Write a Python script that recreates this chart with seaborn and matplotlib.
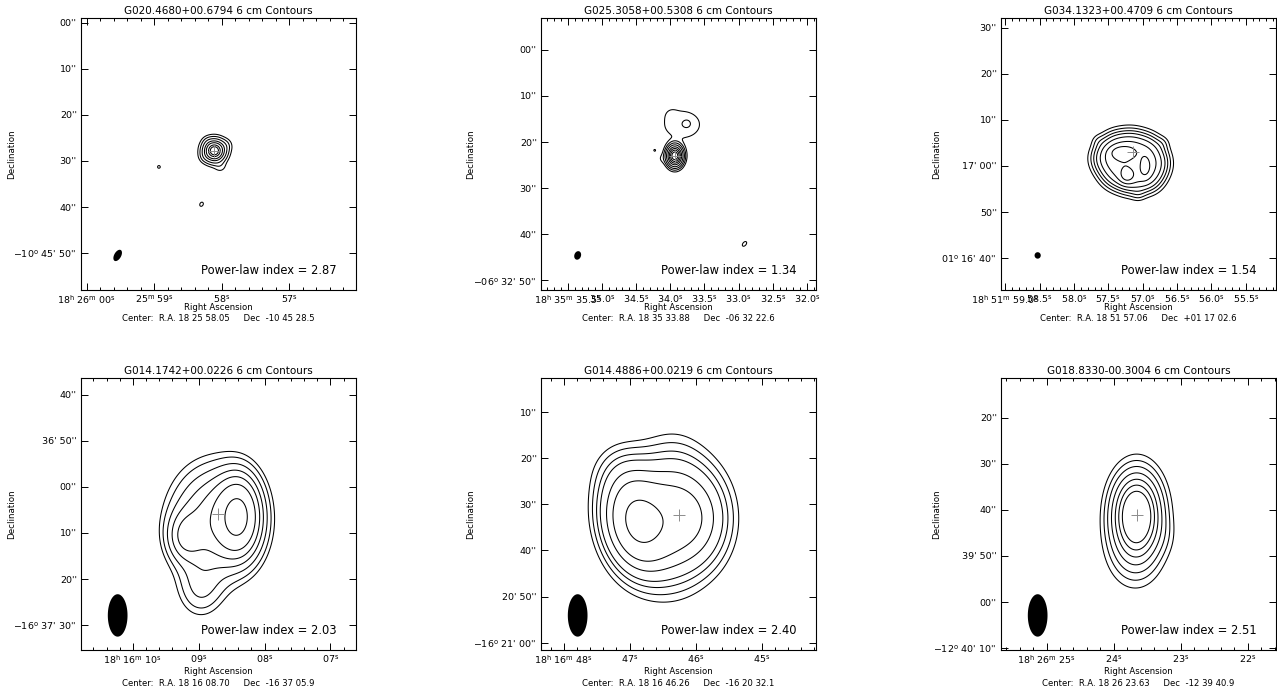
import numpy as np
import matplotlib
matplotlib.use("Agg")
import matplotlib.pyplot as plt
from matplotlib.ticker import FixedLocator, FixedFormatter, MultipleLocator
import seaborn as sns

sns.set_theme(style="ticks")
plt.rcParams.update({
    "font.family": ["DejaVu Sans"],
    "mathtext.fontset": "dejavusans",
    "mathtext.default": "regular",
    "axes.linewidth": 0.8,
    "axes.edgecolor": "black",
    "text.color": "black",
    "axes.labelcolor": "black",
    "axes.titlecolor": "black",
    "xtick.color": "black",
    "ytick.color": "black",
})

# ---------------- data ----------------
TITLES = ["G020.4680+00.6794 6 cm Contours", "G025.3058+00.5308 6 cm Contours",
          "G034.1323+00.4709 6 cm Contours", "G014.1742+00.0226 6 cm Contours",
          "G014.4886+00.0219 6 cm Contours", "G018.8330-00.3004 6 cm Contours"]
POWER_LAW = [2.87, 1.34, 1.54, 2.03, 2.40, 2.51]
CENTER_TEXT = ["Center:  R.A. 18 25 58.05     Dec  -10 45 28.5",
               "Center:  R.A. 18 35 33.88     Dec  -06 32 22.6",
               "Center:  R.A. 18 51 57.06     Dec  +01 17 02.6",
               "Center:  R.A. 18 16 08.70     Dec  -16 37 05.9",
               "Center:  R.A. 18 16 46.26     Dec  -16 20 32.1",
               "Center:  R.A. 18 26 23.63     Dec  -12 39 40.9"]
# image centres: RA in seconds after 18h, Dec in signed arcsec
RA_CENTER = [1558.05, 2133.88, 3117.06, 968.70, 1006.26, 1583.63]
DEC_CENTER = [-38728.5, -23542.6, 4622.6, -59825.9, -58832.1, -45580.9]

# RA ticks (seconds after 18h) and labels
RA_TICKS = [[1560, 1559, 1558, 1557],
            [2135.5, 2135.0, 2134.5, 2134.0, 2133.5, 2133.0, 2132.5, 2132.0],
            [3119.0, 3118.5, 3118.0, 3117.5, 3117.0, 3116.5, 3116.0, 3115.5],
            [970, 969, 968, 967],
            [1008, 1007, 1006, 1005],
            [1585, 1584, 1583, 1582]]
RA_LABELS = [["18${}^{h}$ 26${}^{m}$ 00${}^{s}$", "25${}^{m}$ 59${}^{s}$", "58${}^{s}$", "57${}^{s}$"],
             ["18${}^{h}$ 35${}^{m}$ 35.5${}^{s}$", "35.0${}^{s}$", "34.5${}^{s}$", "34.0${}^{s}$",
              "33.5${}^{s}$", "33.0${}^{s}$", "32.5${}^{s}$", "32.0${}^{s}$"],
             ["18${}^{h}$ 51${}^{m}$ 59.0${}^{s}$", "58.5${}^{s}$", "58.0${}^{s}$", "57.5${}^{s}$",
              "57.0${}^{s}$", "56.5${}^{s}$", "56.0${}^{s}$", "55.5${}^{s}$"],
             ["18${}^{h}$ 16${}^{m}$ 10${}^{s}$", "09${}^{s}$", "08${}^{s}$", "07${}^{s}$"],
             ["18${}^{h}$ 16${}^{m}$ 48${}^{s}$", "47${}^{s}$", "46${}^{s}$", "45${}^{s}$"],
             ["18${}^{h}$ 26${}^{m}$ 25${}^{s}$", "24${}^{s}$", "23${}^{s}$", "22${}^{s}$"]]
RA_MINOR = [0.2, 0.1, 0.1, 0.2, 0.2, 0.2]

# Dec ticks (signed arcsec) and labels
DEC_TICKS = [[-38700, -38710, -38720, -38730, -38740, -38750],
             [-23520, -23530, -23540, -23550, -23560, -23570],
             [4650, 4640, 4630, 4620, 4610, 4600],
             [-59800, -59810, -59820, -59830, -59840, -59850],
             [-58810, -58820, -58830, -58840, -58850, -58860],
             [-45560, -45570, -45580, -45590, -45600, -45610]]
DEC_LABELS = [["00''", "10''", "20''", "30''", "40''", "\u221210${}^{o}$ 45' 50''"],
              ["00''", "10''", "20''", "30''", "40''", "\u221206${}^{o}$ 32' 50''"],
              ["30''", "20''", "10''", "17' 00''", "50''", "01${}^{o}$ 16' 40''"],
              ["40''", "36' 50''", "00''", "10''", "20''", "\u221216${}^{o}$ 37' 30''"],
              ["10''", "20''", "30''", "40''", "20' 50''", "\u221216${}^{o}$ 21' 00''"],
              ["20''", "30''", "40''", "39' 50''", "00''", "\u221212${}^{o}$ 40' 10''"]]

# emission components: (dx west ["], dy north ["], amplitude, sigma_x ["], sigma_y ["], angle [deg])
COMPONENTS = [
    [(-0.9, 0.7, 1.00, 1.35, 1.35, 0), (1.6, 1.9, 0.05, 0.9, 0.9, 0), (-3.0, -0.6, 0.04, 0.8, 0.8, 0),
     (0.4, -2.7, 0.04, 0.9, 0.9, 0), (-2.4, 2.6, 0.03, 0.8, 0.8, 0),
     (-13.0, -2.8, 0.034, 0.6, 0.6, 0), (-3.7, -10.9, 0.036, 0.6, 0.8, -30)],
    [(-0.8, -0.4, 1.00, 0.95, 1.25, 0), (0.8, 6.4, 0.040, 3.2, 2.4, 0), (1.9, 6.6, 0.018, 0.7, 0.7, 0),
     (-1.6, 8.6, 0.012, 1.0, 1.0, 0), (-3.6, -1.0, 0.018, 0.8, 0.8, 0), (-5.2, 0.8, 0.022, 0.4, 0.4, 0),
     (14.4, -19.5, 0.024, 0.6, 1.0, -40)],
    [(-7.0, -1.0, 0.5, 2.3, 2.3, 0), (-5.0, 1.5, 0.5, 2.3, 2.3, 0), (-1.5, 2.0, 0.5, 2.3, 2.3, 0),
     (2.0, 1.0, 0.5, 2.3, 2.3, 0), (3.5, -2.0, 0.5, 2.3, 2.3, 0), (2.0, -5.0, 0.5, 2.3, 2.3, 0),
     (-1.5, -5.5, 0.5, 2.3, 2.3, 0), (-5.0, -4.2, 0.5, 2.3, 2.3, 0), (-2.0, -1.5, 0.5, 2.3, 2.3, 0),
     (-3.5, 0.4, 0.35, 1.6, 0.8, 0), (-2.6, -5.0, 0.35, 1.1, 1.1, 0), (1.5, -2.8, 0.30, 0.8, 1.6, 0),
     (-9.0, 3.0, 0.06, 1.0, 1.0, 0), (5.5, 2.5, 0.06, 1.0, 1.0, 0), (0.0, -9.0, 0.06, 1.0, 1.0, 0)],
    [(4.5, -0.4, 0.90, 3.0, 5.5, 0), (-0.5, -1.5, 0.60, 6.5, 8.0, 0), (-7.5, -5.0, 0.30, 2.5, 3.5, 0),
     (-4.0, -16.5, 0.20, 3.5, 4.5, 0)],
    [(-9.3, -1.5, 1.00, 4.2, 6.5, 10), (-1.5, -0.5, 0.55, 5.0, 8.2, 0), (4.5, -1.0, 0.30, 4.5, 6.5, 0),
     (-13.0, 9.5, 0.05, 4.0, 4.0, 0)],
    [(-0.4, 0.2, 1.00, 3.5, 5.8, 0), (-0.8, -8.0, 0.20, 4.0, 5.5, 0), (6.0, -5.0, 0.03, 2.0, 3.0, 0)],
]
LEVELS = [[0.03, 0.073, 0.155, 0.29, 0.44, 0.65, 0.81],
          [0.02, 0.045, 0.09, 0.17, 0.30, 0.45, 0.62, 0.80],
          [0.12, 0.20, 0.30, 0.42, 0.60, 0.85, 1.15],
          [0.12, 0.17, 0.25, 0.36, 0.50, 0.70, 1.10],
          [0.055, 0.09, 0.14, 0.20, 0.34, 0.53, 0.95],
          [0.088, 0.145, 0.22, 0.325, 0.453, 0.586, 0.73]]
# catalogue position markers (dx, dy arcsec)
CROSS_DX = [-0.9, -0.8, -1.1, 0.0, 0.0, -0.4]
CROSS_DY = [0.7, -0.4, 0.4, 0.0, -0.2, -0.2]
# restoring beams: major, minor FWHM ["], position angle [deg]
BEAM_MAJ = [2.7, 1.9, 1.4, 9.2, 9.2, 9.2]
BEAM_MIN = [1.5, 1.45, 1.35, 4.3, 4.3, 4.3]
BEAM_PA = [-30, -20, 0, 0, 0, 0]

# ---------------- layout ----------------
W, H = 1277, 693
fig = plt.figure(figsize=(W / 100, H / 100), dpi=100)
COL_LEFT = [81, 541, 1001]
ROW_TOP = [18, 378]
AX_W, AX_H = 275, 272
DECL_X = [12, 471, 937]
RA_LABEL_Y = [308, 672]
CENTER_Y = [319, 684]

HALF = 30.0
grid = np.arange(-33, 33, 0.15)
GX, GY = np.meshgrid(grid, grid)


def field(comps):
    Z = np.zeros_like(GX)
    for dx, dy, a, sx, sy, th in comps:
        t = np.deg2rad(th)
        xr = (GX - dx) * np.cos(t) + (GY - dy) * np.sin(t)
        yr = -(GX - dx) * np.sin(t) + (GY - dy) * np.cos(t)
        Z += a * np.exp(-0.5 * ((xr / sx) ** 2 + (yr / sy) ** 2))
    return Z


for i in range(6):
    r, c = divmod(i, 3)
    left, top = COL_LEFT[c], ROW_TOP[r]
    ax = fig.add_axes([left / W, 1 - (top + AX_H) / H, AX_W / W, AX_H / H])
    ra_c, dec_c = RA_CENTER[i], DEC_CENTER[i]
    k = 15.0 * np.cos(np.deg2rad(dec_c / 3600.0))  # arcsec per RA second

    RA = ra_c - GX / k
    DEC = dec_c + GY
    Z = field(COMPONENTS[i])
    ax.contour(RA, DEC, Z, levels=LEVELS[i], colors="black", linewidths=0.75)

    # beam
    t = np.linspace(0, 2 * np.pi, 120)
    pa = np.deg2rad(BEAM_PA[i])
    u = 0.5 * BEAM_MIN[i] * np.cos(t)
    v = 0.5 * BEAM_MAJ[i] * np.sin(t)
    bx = -22.0 + u * np.cos(pa) - v * np.sin(pa)
    by = -22.0 + u * np.sin(pa) + v * np.cos(pa)
    ax.fill(ra_c - bx / k, dec_c + by, color="black", lw=0)

    # catalogue position
    sns.scatterplot(x=[ra_c - CROSS_DX[i] / k], y=[dec_c + CROSS_DY[i]], marker="+",
                    s=70, color="#8c8c8c", linewidth=0.7, ax=ax, legend=False, zorder=5)

    ax.set_xlim(ra_c + HALF / k, ra_c - HALF / k)
    ax.set_ylim(dec_c - 29.5, dec_c + 29.5)
    ax.xaxis.set_major_locator(FixedLocator(RA_TICKS[i]))
    ax.xaxis.set_major_formatter(FixedFormatter(RA_LABELS[i]))
    ax.xaxis.set_minor_locator(MultipleLocator(RA_MINOR[i]))
    ax.yaxis.set_major_locator(FixedLocator(DEC_TICKS[i]))
    ax.yaxis.set_major_formatter(FixedFormatter(DEC_LABELS[i]))
    ax.tick_params(which="both", direction="in", top=True, right=True, labelsize=6.8,
                   width=0.7, color="black", labelcolor="black")
    ax.tick_params(which="major", length=5)
    ax.tick_params(axis="x", which="major", pad=2.5)
    ax.tick_params(axis="y", which="major", pad=3)
    ax.tick_params(which="minor", length=2.5)
    ax.tick_params(axis="y", which="minor", left=False, right=False)
    ax.set_xlabel("")
    ax.set_ylabel("")
    ax.set_title(TITLES[i], fontsize=7.5, pad=3, color="black")
    ax.text(0.93, 0.07, f"Power-law index = {POWER_LAW[i]:.2f}", transform=ax.transAxes,
            ha="right", va="center", fontsize=8.3, color="black")
    for sp in ax.spines.values():
        sp.set_visible(True)
        sp.set_linewidth(0.8)

    cx = (left + AX_W / 2) / W
    fig.text(DECL_X[c] / W, 1 - (top + AX_H / 2) / H, "Declination", rotation=90,
             ha="center", va="center", fontsize=6.3)
    fig.text(cx, 1 - RA_LABEL_Y[r] / H, "Right Ascension", ha="center", va="center", fontsize=6.1)
    fig.text(cx, 1 - CENTER_Y[r] / H, CENTER_TEXT[i], ha="center", va="center", fontsize=6.1)

fig.savefig("out.png", dpi=100, facecolor="white")
